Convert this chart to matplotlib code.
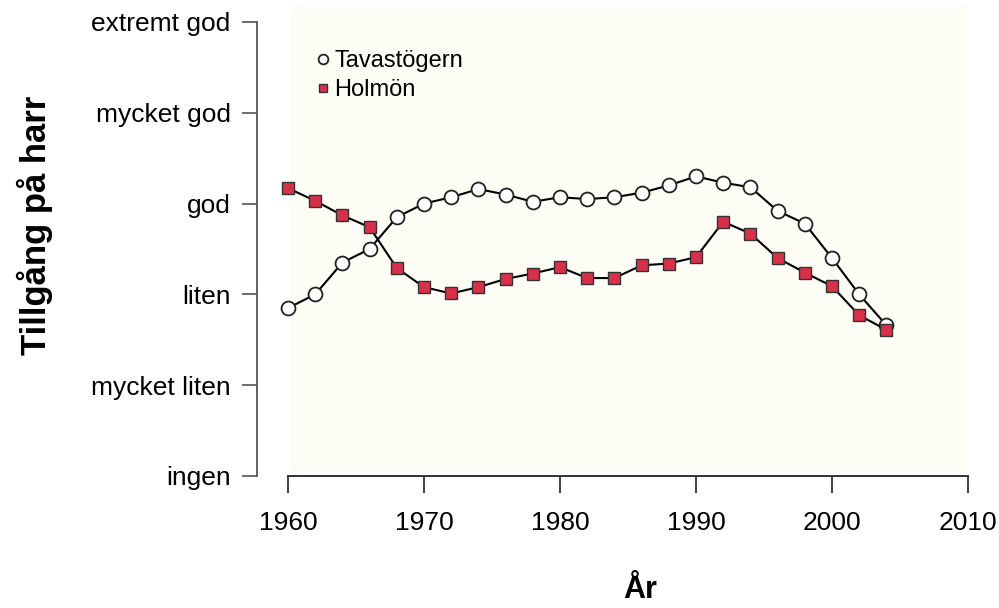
import matplotlib
matplotlib.use('Agg')
import matplotlib.pyplot as plt
from matplotlib.patches import Rectangle

plt.rcParams['font.family'] = ['Liberation Sans', 'DejaVu Sans']

years = list(range(1960, 2005, 2))
tavastogern = [1.85, 2.00, 2.35, 2.50, 2.85, 3.00, 3.07, 3.16, 3.10, 3.02, 3.07, 3.05,
               3.07, 3.12, 3.20, 3.30, 3.23, 3.18, 2.92, 2.78, 2.40, 2.00, 1.66]
holmon = [3.17, 3.03, 2.87, 2.74, 2.29, 2.08, 2.01, 2.08, 2.17, 2.23, 2.30, 2.18,
          2.18, 2.32, 2.34, 2.41, 2.80, 2.67, 2.40, 2.24, 2.09, 1.77, 1.61]

level_labels = ['ingen', 'mycket liten', 'liten', 'god', 'mycket god', 'extremt god']
year_ticks = [1960, 1970, 1980, 1990, 2000, 2010]

W, H = 999, 608
fig = plt.figure(figsize=(W / 100, H / 100), dpi=100)

ax = fig.add_axes([257 / W, 1 - 476 / H, (968 - 257) / W, (476 - 22) / H])
ax.set_facecolor('none')
ax.set_xlim(1957.72, 2010)
ax.set_ylim(0, 5)

# pale background behind the data area
ax.add_patch(Rectangle((290 / W, 1 - 472 / H), (967 - 290) / W, (472 - 5) / H,
                       transform=fig.transFigure, facecolor='#fdfdf6',
                       edgecolor='none', zorder=0, clip_on=False))

ax.plot(years, tavastogern, color='black', lw=1.5, marker='o', ms=10,
        mfc='white', mec='#222222', mew=1.3, label='Tavastögern', zorder=3)
ax.plot(years, holmon, color='black', lw=1.5, marker='s', ms=9,
        mfc='#d9304a', mec='#333333', mew=1.0, label='Holmön', zorder=4)

for s in ['top', 'right']:
    ax.spines[s].set_visible(False)
ax.spines['left'].set_color('#555555')
ax.spines['left'].set_linewidth(1.3)
ax.spines['bottom'].set_color('#222222')
ax.spines['bottom'].set_linewidth(1.3)
ax.spines['bottom'].set_bounds(1960, 2010)

ax.set_yticks(range(6))
ax.set_yticklabels(level_labels)
ax.set_xticks(year_ticks)
ax.tick_params(axis='y', length=11, width=1.2, color='#555555', pad=8, labelsize=19)
ax.tick_params(axis='x', length=12, width=1.2, color='#222222', pad=13, labelsize=19)

fig.text(35 / W, 1 - 225 / H, 'Tillgång på harr', rotation=90, ha='center', va='center',
         fontsize=25, fontweight='bold')
fig.text(640 / W, 1 - 590 / H, 'År', ha='center', va='center',
         fontsize=22, fontweight='bold')

leg = ax.legend(loc='upper left', bbox_to_anchor=(306 / W, 1 - 38 / H),
                bbox_transform=fig.transFigure, frameon=False, fontsize=17,
                handlelength=0.4, handletextpad=0.3, labelspacing=0.3,
                borderpad=0, markerscale=0.7)
for h in leg.legend_handles:
    h.set_linestyle('none')
leg.set_zorder(5)

fig.savefig('out.png', dpi=100)
plt.close(fig)
